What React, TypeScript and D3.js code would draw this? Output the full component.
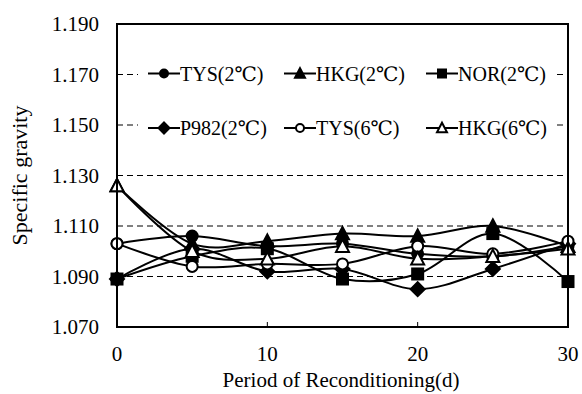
import React from 'react';
import * as d3 from 'd3';

// days of reconditioning
const days = [0, 5, 10, 15, 20, 25, 30];

// specific gravity per sample
const tys2 = [1.103, 1.106, 1.102, 1.103, 1.099, 1.098, 1.102];
const hkg2 = [1.126, 1.103, 1.104, 1.107, 1.106, 1.110, 1.102];
const nor2 = [1.089, 1.098, 1.101, 1.089, 1.091, 1.107, 1.088];
const p982 = [1.089, 1.101, 1.092, 1.093, 1.085, 1.093, 1.103];
const tys6 = [1.103, 1.094, 1.095, 1.095, 1.102, 1.099, 1.104];
const hkg6 = [1.126, 1.100, 1.097, 1.102, 1.097, 1.098, 1.101];

const yTicks = [1.07, 1.09, 1.11, 1.13, 1.15, 1.17, 1.19];
const xTicks = [0, 10, 20, 30];

const series = [
  { name: 'TYS(2℃)', values: tys2, marker: 'circle', filled: true },
  { name: 'HKG(2℃)', values: hkg2, marker: 'triangle', filled: true },
  { name: 'NOR(2℃)', values: nor2, marker: 'square', filled: true },
  { name: 'P982(2℃)', values: p982, marker: 'diamond', filled: true },
  { name: 'TYS(6℃)', values: tys6, marker: 'circle', filled: false },
  { name: 'HKG(6℃)', values: hkg6, marker: 'triangle', filled: false },
];

const font = "'Liberation Serif', 'DejaVu Serif', 'Noto Sans CJK JP', serif";

function Marker({ type, filled, cx, cy, size }: { type: string; filled: boolean; cx: number; cy: number; size: number }) {
  const fill = filled ? '#000' : '#fff';
  const r = size / 2;
  const common = { fill, stroke: '#000', strokeWidth: 2 };
  if (type === 'circle') return <circle cx={cx} cy={cy} r={r - 0.5} {...common} />;
  if (type === 'square') return <rect x={cx - r + 0.5} y={cy - r + 0.5} width={size - 1} height={size - 1} {...common} />;
  if (type === 'diamond') {
    const d = r + 1;
    return <path d={`M${cx},${cy - d}L${cx + d},${cy}L${cx},${cy + d}L${cx - d},${cy}Z`} {...common} />;
  }
  const h = size * 0.95;
  return <path d={`M${cx},${cy - h / 2 - 1}L${cx + r + 0.5},${cy + h / 2}L${cx - r - 0.5},${cy + h / 2}Z`} {...common} strokeLinejoin="miter" />;
}

export default function App() {
  const x = d3.scaleLinear().domain([0, 30]).range([117, 568]);
  const y = d3.scaleLinear().domain([1.07, 1.19]).range([327, 24]);

  const line = d3.line<number>()
    .x((_, i) => x(days[i]))
    .y(d => y(d))
    .curve(d3.curveCardinal.tension(0));

  const legendCols = [148, 284, 426];
  const legendRows = [y(1.17) - 1, y(1.15) + 3];

  return (
    <svg width={582} height={394} style={{ position: 'absolute', left: 0, top: 0, background: '#fff', fontFamily: font }}>
      <rect width={582} height={394} fill="#fff" />
      {/* dashed gridlines */}
      {yTicks.slice(1, -1).map(t => (
        <line key={t} x1={x(0)} x2={x(30)} y1={y(t)} y2={y(t)} stroke="#000" strokeWidth={1} strokeDasharray="6,4" />
      ))}

      {/* legend with white background */}
      <rect x={138} y={50} width={416} height={100} fill="#fff" />
      {series.map((s, i) => {
        const lx = legendCols[i % 3];
        const ly = legendRows[Math.floor(i / 3)];
        return (
          <g key={s.name}>
            <line x1={lx} x2={lx + 32} y1={ly} y2={ly} stroke="#000" strokeWidth={2} />
            <Marker type={s.marker} filled={s.filled} cx={lx + 16} cy={ly} size={9} />
            <text x={lx + 32} y={ly + 7} fontSize={20}>{s.name}</text>
          </g>
        );
      })}

      {/* series */}
      {series.map(s => (
        <g key={s.name}>
          <path d={line(s.values) ?? ''} fill="none" stroke="#000" strokeWidth={2} />
        </g>
      ))}
      {series.map(s => (
        <g key={s.name + 'm'}>
          {s.values.map((v, i) => (
            <Marker key={i} type={s.marker} filled={s.filled} cx={x(days[i])} cy={y(v)} size={12} />
          ))}
        </g>
      ))}

      {/* frame */}
      <rect x={x(0)} y={y(1.19)} width={x(30) - x(0)} height={y(1.07) - y(1.19)} fill="none" stroke="#000" strokeWidth={2} />
      {xTicks.slice(1, -1).map(t => (
        <line key={t} x1={x(t)} x2={x(t)} y1={y(1.07)} y2={y(1.07) - 5} stroke="#000" strokeWidth={1} />
      ))}

      {/* y tick labels */}
      {yTicks.map(t => (
        <text key={t} x={99} y={y(t) + 7} textAnchor="end" fontSize={21}>{d3.format('.3f')(t)}</text>
      ))}
      {/* x tick labels */}
      {xTicks.map(t => (
        <text key={t} x={x(t)} y={361} textAnchor="middle" fontSize={21}>{t}</text>
      ))}

      <text x={341} y={387} textAnchor="middle" fontSize={21}>Period of Reconditioning(d)</text>
      <text transform={`translate(27,${y(1.13)}) rotate(-90)`} textAnchor="middle" fontSize={22}>Specific gravity</text>
    </svg>
  );
}
